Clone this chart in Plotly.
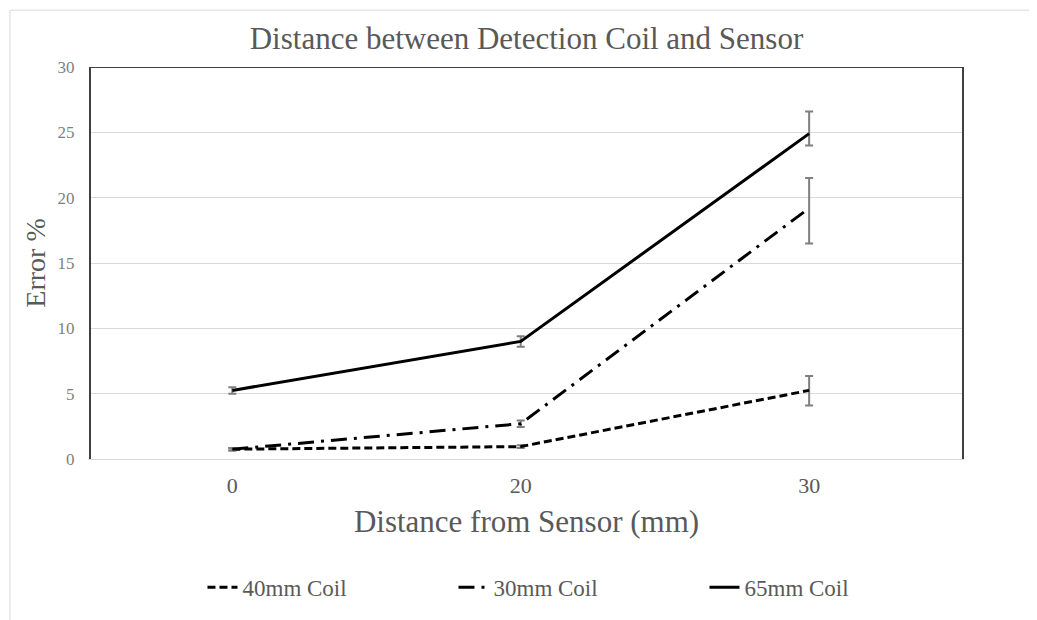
import plotly.graph_objects as go

distance = ["0", "20", "30"]

coil_40 = [0.75, 0.95, 5.25]
coil_40_plus = [0.1, 0.1, 1.1]
coil_40_minus = [0.1, 0.1, 1.15]

coil_30 = [0.75, 2.7, 19.2]
coil_30_plus = [0.1, 0.25, 2.3]
coil_30_minus = [0.1, 0.25, 2.7]

coil_65 = [5.25, 9.0, 24.9]
coil_65_plus = [0.25, 0.4, 1.7]
coil_65_minus = [0.25, 0.4, 0.9]

FONT = "Liberation Serif, Times New Roman, serif"
TXT = "#595959"
ERR = "#7f7f7f"

series = [
    ("40mm Coil", coil_40, coil_40_plus, coil_40_minus, "8px,4px"),
    ("30mm Coil", coil_30, coil_30_plus, coil_30_minus, "16px,7px,3px,7px"),
    ("65mm Coil", coil_65, coil_65_plus, coil_65_minus, "solid"),
]

fig = go.Figure()
for name, vals, plus, minus, dash in series:
    fig.add_trace(go.Scatter(
        x=distance, y=vals, name=name, mode="lines",
        line=dict(color="black", width=3, dash=dash),
        error_y=dict(type="data", symmetric=False, array=plus, arrayminus=minus,
                     color=ERR, thickness=2, width=4),
    ))

# page body has an 8px margin, so margins are shifted to keep the plot in place
fig.update_layout(
    width=1037, height=620,
    margin=dict(l=83, r=83, t=59, b=169, autoexpand=False),
    paper_bgcolor="white", plot_bgcolor="white",
    font=dict(family=FONT, color=TXT),
    title=dict(text="Distance between Detection Coil and Sensor", x=0.5, xanchor="center",
               y=0.952, yanchor="middle", font=dict(size=31, color=TXT)),
    xaxis=dict(
        type="category", range=[-0.49, 2.53],
        showgrid=False, showline=True, linecolor="#d9d9d9", linewidth=1,
        ticks="", tickfont=dict(size=22, color=TXT), ticklabelstandoff=7,
        title=dict(text="Distance from Sensor (mm)", font=dict(size=31, color=TXT), standoff=12),
    ),
    yaxis=dict(
        range=[0, 30], dtick=5, showgrid=True, gridcolor="#d9d9d9", gridwidth=1,
        zeroline=False, showline=True, mirror=True, linecolor="#404040", linewidth=2,
        ticks="", tickfont=dict(size=17, color=ERR), ticklabelstandoff=11,
        title=dict(text="Error %", font=dict(size=28, color=TXT), standoff=4),
    ),
    legend=dict(
        orientation="h", x=0.128, xanchor="left", y=-0.327, yanchor="middle",
        entrywidth=206, entrywidthmode="pixels",
        font=dict(size=23, color=TXT), itemwidth=30,
    ),
    shapes=[
        dict(type="line", xref="paper", yref="y", x0=0, x1=1, y0=30, y1=30,
             line=dict(color="#404040", width=2)),
        dict(type="line", xref="paper", yref="paper", x0=-0.093, x1=1.2, y0=1.145, y1=1.145,
             line=dict(color="#d9d9d9", width=1)),
        dict(type="line", xref="paper", yref="paper", x0=-0.093, x1=-0.093, y0=1.145, y1=-0.5,
             line=dict(color="#d9d9d9", width=1)),
    ],
)

fig.write_html("out.html")
